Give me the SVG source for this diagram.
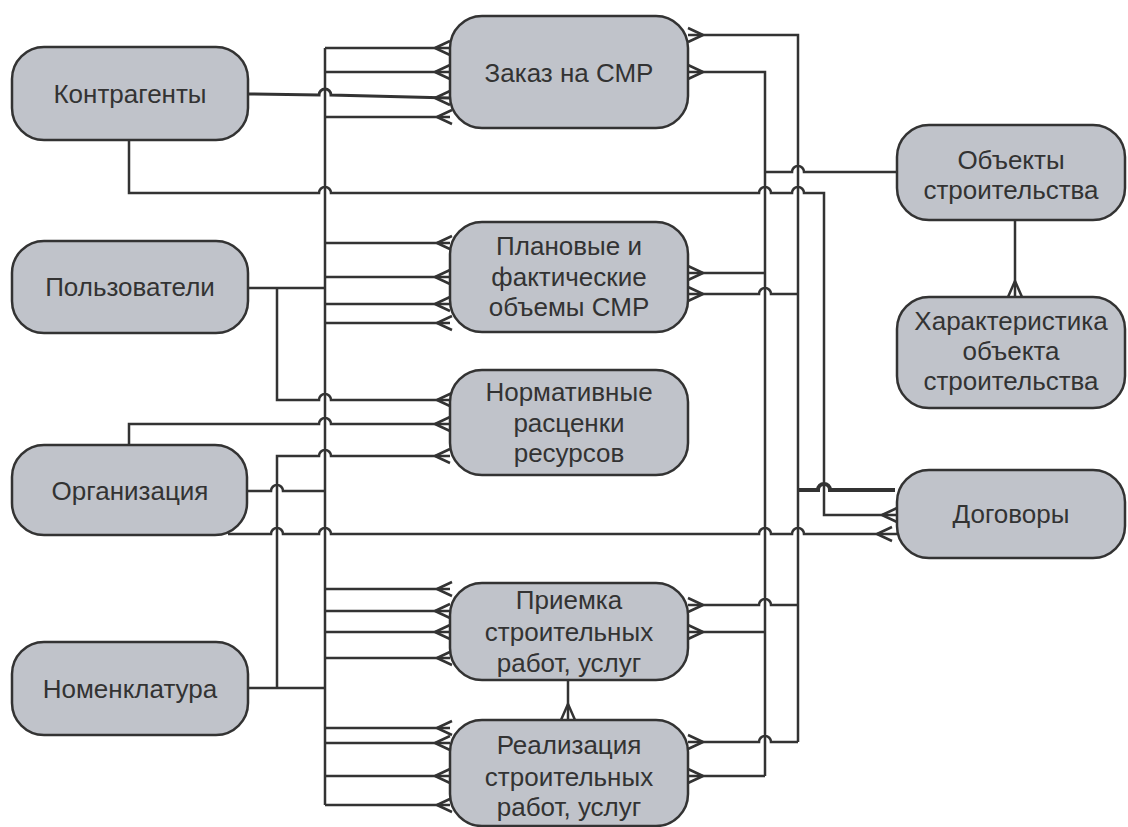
<svg xmlns="http://www.w3.org/2000/svg" xmlns:xlink="http://www.w3.org/1999/xlink" width="1128" height="827" viewBox="0 0 1128 827">
<style>
.node rect{fill:#c0c3ca;stroke:#333;stroke-width:2.5}
.node text{font-family:"Liberation Sans",Arial,sans-serif;font-size:26px;fill:#333;text-anchor:middle}
.conn path,.conn use{fill:none;stroke:#333;stroke-width:2.5}
.conn .thick{stroke-width:4}
</style>
<defs>
<path id="cfL" d="M0,0 L15,-7 M0,0 L15,7"/>
<path id="cfR" d="M0,0 L-15,-7 M0,0 L-15,7"/>
<path id="cfD" d="M0,0 L-7,16 M0,0 L7,16"/>
</defs>
<rect width="1128" height="827" fill="#fff"/>
<g id="connectors" class="conn">
<path d="M325,48 V805"/>
<path d="M325,48 H450 M325,72 H450 M325,117 H450"/>
<path d="M325,243 H450 M325,277 H450 M325,304 H450 M325,323 H450"/>
<path d="M325,589 H450 M325,611 H450 M325,632 H450 M325,658 H450"/>
<path d="M325,728 H450 M325,743 H450 M325,776 H450 M325,805 H450"/>
<path d="M248,288 H325 M277,288 V400 H319 A6,6 0 0 1 331,400 H450"/>
<path d="M248,688 H325 M277,688 V456 H319 A6,6 0 0 1 331,456 H450"/>
<path d="M247,491 H271 A6,6 0 0 1 283,491 H325"/>
<path d="M129,445 V424 H319 A6,6 0 0 1 331,424 H450"/>
<path d="M228,534 H271 A6,6 0 0 1 283,534 H319 A6,6 0 0 1 331,534 H759 A6,6 0 0 1 771,534 H792 A6,6 0 0 1 804,534 H897"/>
<path d="M248,94 L319,95 A6,6 0 0 1 331,95 L450,98" style="stroke-width:3"/>
<path d="M129,140 V193 H319 A6,6 0 0 1 331,193 H759 A6,6 0 0 1 771,193 H792 A6,6 0 0 1 804,193 H824 V515 H897"/>
<path d="M688,35 H798 V742"/>
<path class="thick" d="M798,490 H818 A6,6 0 0 1 830,490 H895"/>
<path d="M688,72 H765 V776"/>
<path d="M765,172 H792 A6,6 0 0 1 804,172 H897"/>
<path d="M688,273 H765 M688,294 H759 A6,6 0 0 1 771,294 H798"/>
<path d="M688,605 H759 A6,6 0 0 1 771,605 H798 M688,632 H765"/>
<path d="M688,742 H759 A6,6 0 0 1 771,742 H798 M688,776 H765"/>
<path d="M568,680 V720"/>
<path d="M1015,220 V297"/>
<use href="#cfL" x="435" y="48"/><use href="#cfL" x="435" y="72"/><use href="#cfL" x="435" y="98"/><use href="#cfL" x="437" y="117"/>
<use href="#cfL" x="437" y="243"/><use href="#cfL" x="435" y="277"/><use href="#cfL" x="435" y="304"/><use href="#cfL" x="437" y="323"/>
<use href="#cfL" x="437" y="400"/><use href="#cfL" x="435" y="424"/><use href="#cfL" x="435" y="456"/>
<use href="#cfL" x="437" y="589"/><use href="#cfL" x="435" y="611"/><use href="#cfL" x="435" y="632"/><use href="#cfL" x="437" y="658"/>
<use href="#cfL" x="437" y="728"/><use href="#cfL" x="435" y="743"/><use href="#cfL" x="435" y="776"/><use href="#cfL" x="437" y="805"/>
<use href="#cfR" x="703" y="35"/><use href="#cfR" x="703" y="72"/>
<use href="#cfR" x="703" y="273"/><use href="#cfR" x="703" y="294"/>
<use href="#cfR" x="703" y="605"/><use href="#cfR" x="703" y="632"/>
<use href="#cfR" x="703" y="742"/><use href="#cfR" x="703" y="776"/>
<use href="#cfL" x="882" y="515"/><use href="#cfL" x="877" y="534"/>
<use href="#cfD" x="568" y="704"/><use href="#cfD" x="1015" y="281"/>
</g>
<g id="n-kontragenty" class="node"><rect x="12" y="47" width="236" height="93" rx="32"/><text x="130" y="103">Контрагенты</text></g>
<g id="n-polzovateli" class="node"><rect x="12" y="241" width="236" height="92" rx="32"/><text x="130" y="296">Пользователи</text></g>
<g id="n-organizatsiya" class="node"><rect x="12" y="445" width="235" height="90" rx="32"/><text x="130" y="500">Организация</text></g>
<g id="n-nomenklatura" class="node"><rect x="12" y="642" width="236" height="93" rx="32"/><text x="130" y="698">Номенклатура</text></g>
<g id="n-zakaz" class="node"><rect x="450" y="16" width="238" height="112" rx="32"/><text x="569" y="82">Заказ на СМР</text></g>
<g id="n-planovye" class="node"><rect x="450" y="222" width="238" height="110" rx="32"/><text x="569" y="255">Плановые и</text><text x="569" y="286">фактические</text><text x="569" y="316">объемы СМР</text></g>
<g id="n-normativnye" class="node"><rect x="450" y="370" width="238" height="105" rx="32"/><text x="569" y="401">Нормативные</text><text x="569" y="432">расценки</text><text x="569" y="462">ресурсов</text></g>
<g id="n-priemka" class="node"><rect x="450" y="583" width="238" height="97" rx="32"/><text x="569" y="609">Приемка</text><text x="569" y="641">строительных</text><text x="569" y="672">работ, услуг</text></g>
<g id="n-realizatsiya" class="node"><rect x="450" y="720" width="238" height="106" rx="32"/><text x="569" y="754">Реализация</text><text x="569" y="786">строительных</text><text x="569" y="816">работ, услуг</text></g>
<g id="n-obekty" class="node"><rect x="897" y="125" width="228" height="95" rx="32"/><text x="1011" y="169">Объекты</text><text x="1011" y="199">строительства</text></g>
<g id="n-harakteristika" class="node"><rect x="897" y="297" width="228" height="111" rx="32"/><text x="1011" y="330">Характеристика</text><text x="1011" y="360">объекта</text><text x="1011" y="390">строительства</text></g>
<g id="n-dogovory" class="node"><rect x="897" y="470" width="228" height="88" rx="32"/><text x="1011" y="523">Договоры</text></g>
</svg>
